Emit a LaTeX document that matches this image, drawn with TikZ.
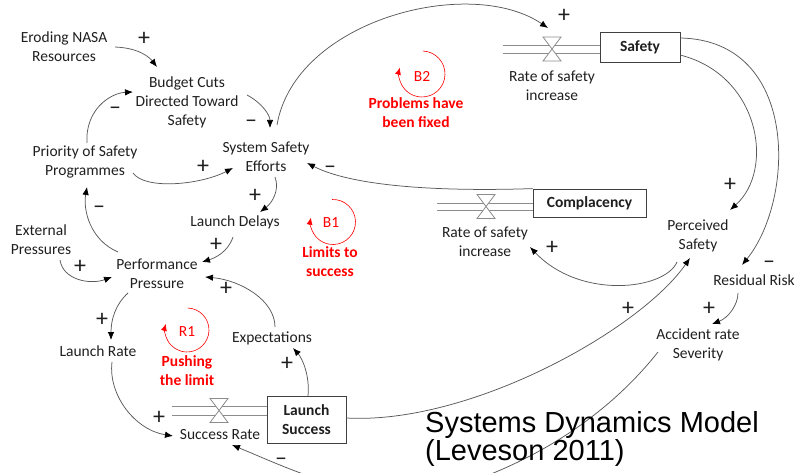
\documentclass[tikz,border=0pt]{standalone}
\usepackage{fontspec}
\setmainfont{Carlito}
\newfontfamily\titlefont{Liberation Sans}
\usetikzlibrary{arrows.meta,calc}

\begin{document}
\begin{tikzpicture}[x=1pt,y=-1pt,
  lbl/.style={align=center, font=\fontsize{15.5}{19}\selectfont, inner sep=0pt, text=black!88},
  redlbl/.style={align=center, font=\fontsize{15.5}{19}\selectfont\bfseries, inner sep=0pt, text=red},
  plus/.style={font=\fontsize{24}{24}\selectfont, inner sep=0pt, text=black!88, yshift=-1.5pt},
  minus/.style={font=\fontsize{24}{24}\selectfont, inner sep=0pt, text=black!88, yshift=-6pt},
  stock/.style={draw=black!75, line width=0.8pt, fill=white, inner sep=0pt,
    font=\fontsize{15.5}{19}\selectfont\bfseries, align=center, text=black!88},
  link/.style={draw=black!65, line width=0.75pt, -{Latex[length=8pt,width=6.5pt,color=black]}},
  pipe/.style={draw=black!45, line width=0.8pt},
  valvebody/.style={draw=black!45, line width=0.8pt, fill=white},
  loopmark/.style={draw=red, line width=0.6pt, -{Latex[length=7pt,width=6pt]}},
  valve/.pic={\draw[valvebody] (-9,-12) -- (9,-12) -- (-9,12) -- (9,12) -- cycle;},
]
\useasboundingbox (0,0) rectangle (795,473);
\clip (0,0) rectangle (795,473);

% ---------- stocks ----------
\node[stock, minimum width=80, minimum height=30] (safety) at (640,47) {Safety};
\node[stock, minimum width=113, minimum height=28] (complacency) at (589.5,203) {Complacency};
\node[stock, minimum width=79, minimum height=47] (lsucc) at (306.5,419.5) {Launch\\Success};

% ---------- flows (pipes and valves) ----------
\coordinate (vtop) at (552,49);
\coordinate (vmid) at (486,206.5);
\coordinate (vbot) at (219,410.5);
\coordinate (srcTa) at (503,45);   \coordinate (srcTb) at (503,53);
\coordinate (srcMa) at (437,203);  \coordinate (srcMb) at (437,210);
\coordinate (srcBa) at (172,406);  \coordinate (srcBb) at (172,415);
\draw[pipe] (srcTa) -- (srcTa -| safety.west) (srcTb) -- (srcTb -| safety.west);
\draw[pipe] (srcMa) -- (srcMa -| complacency.west) (srcMb) -- (srcMb -| complacency.west);
\draw[pipe] (srcBa) -- (srcBa -| lsucc.west) (srcBb) -- (srcBb -| lsucc.west);
\pic at (vtop) {valve};
\pic at (vmid) {valve};
\pic at (vbot) {valve};

% ---------- variables ----------
\node[lbl] (eroding) at (64,46.5) {Eroding NASA\\Resources};
\node[lbl] (budget) at (187,102) {Budget Cuts\\Directed Toward\\Safety};
\node[lbl] (sse) at (266,156.5) {System Safety\\Efforts};
\node[lbl] (priority) at (85,162.5) {Priority of Safety\\Programmes};
\node[lbl] (delays) at (235,222) {Launch Delays};
\node[lbl] (external) at (41,239.5) {External\\Pressures};
\node[lbl] (pp) at (157,273.5) {Performance\\Pressure};
\node[lbl] (lrate) at (98,351) {Launch Rate};
\node[lbl] (expect) at (272,338) {Expectations};
\node[lbl] (srate) at (220,435) {Success Rate};
\node[lbl] (rate1) at (552,85.5) {Rate of safety\\increase};
\node[lbl] (rate2) at (485,241.5) {Rate of safety\\increase};
\node[lbl] (perceived) at (698,235.5) {Perceived\\Safety};
\node[lbl] (residual) at (754,280) {Residual Risk};
\node[lbl] (accident) at (698,344.5) {Accident rate\\Severity};

% ---------- causal links ----------
\draw[link] ($(eroding.center)+(51,0.5)$) .. controls (140,48) and (150,58) .. ($(budget.center)+(-30,-35)$);
\draw[link] ($(priority.center)+(2,-19.5)$) .. controls (85,110) and (110,93) .. ($(budget.center)+(-54,-10)$);
\draw[link] ($(budget.center)+(60,-7)$) .. controls (262,103) and (270,115) .. ($(sse.center)+(4,-28.5)$);
\draw[link] ($(priority.center)+(48,10.5)$) .. controls (145,190) and (200,185) .. ($(sse.center)+(-33,11.5)$);
\draw[link] ($(sse.center)+(11,-31.5)$) .. controls (295,20) and (470,-25) .. ($(vtop)+(-4,-21)$);
\draw[link] ($(sse.center)+(9,20.5)$) .. controls (280,190) and (272,203) .. ($(delays.center)+(25,-10)$);
\draw[link] (complacency.north west) .. controls (430,192) and (350,185) .. ($(sse.center)+(41,6.5)$);
\draw[link] ($(delays.center)+(-2,15)$) .. controls (228,252) and (215,258) .. ($(pp.center)+(45,-11.5)$);
\draw[link] ($(pp.center)+(-39,-21.5)$) .. controls (90,240) and (83,210) .. ($(priority.center)+(2,24.5)$);
\draw[link] ($(external.center)+(19,20.5)$) .. controls (63,280) and (90,285) .. ($(pp.center)+(-45,3.5)$);
\draw[link] ($(expect.center)+(3,-11)$) .. controls (275,300) and (240,280) .. ($(pp.center)+(48,3.5)$);
\draw[link] ($(pp.center)+(-29,19.5)$) .. controls (115,305) and (111,320) .. ($(lrate.center)+(13,-11)$);
\draw[link] ($(lrate.center)+(14,11)$) .. controls (108,395) and (135,430) .. ($(srate.center)+(-47,1)$);
\draw[link] ($(lsucc.center)+(1.5,-23.5)$) .. controls (310,375) and (302,358) .. ($(expect.center)+(21,10)$);
\draw[link] ($(lsucc.center)+(39.5,-1.5)$) .. controls (470,425) and (640,330) .. ($(perceived.center)+(-8,22.5)$);
\draw[link] ($(perceived.center)+(-21,26.5)$) .. controls (665,290) and (580,300) .. ($(rate2.center)+(45,5.5)$);
\draw[link] ($(safety.center)+(40,8)$) .. controls (760,75) and (775,170) .. ($(perceived.center)+(32,-25.5)$);
\draw[link] ($(safety.center)+(40,-9)$) .. controls (800,40) and (795,200) .. ($(residual.center)+(-12,-15)$);
\draw[link] ($(residual.center)+(-16,13)$) .. controls (738,305) and (728,318) .. ($(accident.center)+(14,-20.5)$);
\draw[link] ($(accident.center)+(-40,7.5)$) .. controls (620,400) and (560,450) .. (470,482)
  .. controls (380,514) and (300,473) .. ($(srate.center)+(12,10)$);

% ---------- polarities ----------
\node[plus] (p1) at (144,37) {+};
\node[minus] (m1) at (115,105) {–};
\node[minus] (m2) at (251,118) {–};
\node[plus] (p2) at (203,165) {+};
\node[plus] (p3) at (255,194) {+};
\node[minus] (m3) at (99,204) {–};
\node[plus] (p4) at (80,265) {+};
\node[plus] (p5) at (216,243) {+};
\node[plus] (p6) at (226,287) {+};
\node[plus] (p7) at (102,318) {+};
\node[plus] (p8) at (287,362) {+};
\node[plus] (p9) at (159,416) {+};
\node[minus] (m4) at (281,456) {–};
\node[plus] (p10) at (564,14) {+};
\node[minus] (m5) at (330,164) {–};
\node[plus] (p11) at (552,246) {+};
\node[plus] (p12) at (730,183) {+};
\node[minus] (m6) at (769,259) {–};
\node[plus] (p13) at (709,307) {+};
\node[plus] (p14) at (628,307) {+};

% ---------- feedback loops ----------
\draw[loopmark] (422,74) ++(-88:23) arc[start angle=-88, end angle=196, radius=23];
\node[lbl, text=red] (b2) at (422,76) {B2};
\node[redlbl] (b2name) at (416,112.5) {Problems have\\been fixed};

\draw[loopmark] (333,222) ++(-92:22.5) arc[start angle=-92, end angle=191, radius=22.5];
\node[lbl, text=red] (b1) at (331,223) {B1};
\node[redlbl] (b1name) at (330,261.5) {Limits to\\success};

\draw[loopmark] (187,330) ++(-88:22) arc[start angle=-88, end angle=196, radius=22];
\node[lbl, text=red] (r1) at (187,332) {R1};
\node[redlbl] (r1name) at (187,371) {Pushing\\the limit};

% ---------- caption ----------
\node[anchor=base west, inner sep=0pt, font=\titlefont\fontsize{29}{29}\selectfont] (title1) at (425,432) {Systems Dynamics Model};
\node[anchor=base west, inner sep=0pt, font=\titlefont\fontsize{29}{29}\selectfont] (title2) at (425,460) {(Leveson 2011)};
\end{tikzpicture}
\end{document}
